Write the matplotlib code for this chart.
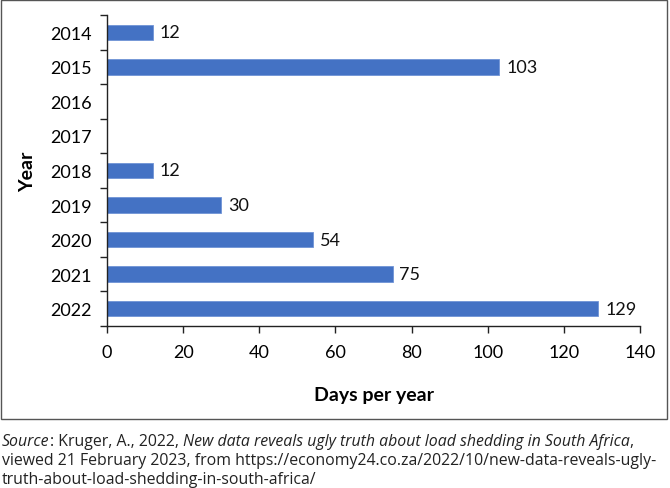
import matplotlib
matplotlib.use("Agg")
import matplotlib.pyplot as plt
import numpy as np
from matplotlib.patches import Rectangle

years = ["2014", "2015", "2016", "2017", "2018", "2019", "2020", "2021", "2022"]
days = [12, 103, None, None, 12, 30, 54, 75, 129]
xticks = [0, 20, 40, 60, 80, 100, 120, 140]

plt.rcParams['font.family'] = ['Lato', 'DejaVu Sans']

W, H = 670, 489
fig = plt.figure(figsize=(W/100, H/100), dpi=100)
ax = fig.add_axes([107/W, 1-327/H, (640-107)/W, (327-16)/H])

pos = np.arange(len(years))
vals = [v if v is not None else 0 for v in days]
bars = ax.barh(pos, vals, height=0.45, color='#4472C4', edgecolor='#6f93d6', linewidth=0.6)
labels = [str(v) if v is not None else "" for v in days]
ax.bar_label(bars, labels=labels, padding=5, fontsize=13, color='#111111')

ax.set_ylim(len(years)-0.5, -0.5)
ax.set_xlim(0, 140)
ax.set_xticks(xticks)
ax.set_xticklabels([str(t) for t in xticks], fontsize=13)
ax.set_yticks(pos)
ax.set_yticklabels(years, fontsize=13)
ax.set_yticks(np.arange(-0.5, len(years), 1), minor=True)
ax.tick_params(axis='y', which='major', length=0, pad=11)
ax.tick_params(axis='y', which='minor', length=5, width=1, color='#222222')
ax.tick_params(axis='x', which='major', length=5, width=1, color='#222222', pad=8)
for s in ['top', 'right']:
    ax.spines[s].set_visible(False)
for s in ['left', 'bottom']:
    ax.spines[s].set_color('#222222')
    ax.spines[s].set_linewidth(1)

ax.set_xlabel("Days per year", fontsize=14, fontweight='bold', labelpad=19)
ax.set_ylabel("Year", fontsize=14, fontweight='bold', labelpad=10)

fig.patches.append(Rectangle((1/W, 1-420/H), 666/W, 419/H, transform=fig.transFigure,
                             fill=False, edgecolor='#555555', linewidth=1))

fs = 11.4
sfam = ['Open Sans', 'DejaVu Sans']
col = '#222222'
t = fig.text(2/W, 1-446/H, "Source", fontsize=fs, style='italic', va='baseline', ha='left',
             color=col, family=sfam)
pieces = [(": Kruger, A., 2022, ", 'normal'),
          ("New data reveals ugly truth about load shedding in South Africa", 'italic'),
          (",", 'normal')]
prev = t
for txt, st in pieces:
    prev = ax.annotate(txt, xy=(1, 0), xycoords=prev, fontsize=fs, style=st, ha='left', va='bottom',
                       color=col, family=sfam, annotation_clip=False)
fig.text(2/W, 1-465/H, "viewed 21 February 2023, from https://economy24.co.za/2022/10/new-data-reveals-ugly-",
         fontsize=fs, va='baseline', ha='left', color=col, family=sfam)
fig.text(2/W, 1-484/H, "truth-about-load-shedding-in-south-africa/",
         fontsize=fs, va='baseline', ha='left', color=col, family=sfam)

fig.savefig("out.png", dpi=100)
